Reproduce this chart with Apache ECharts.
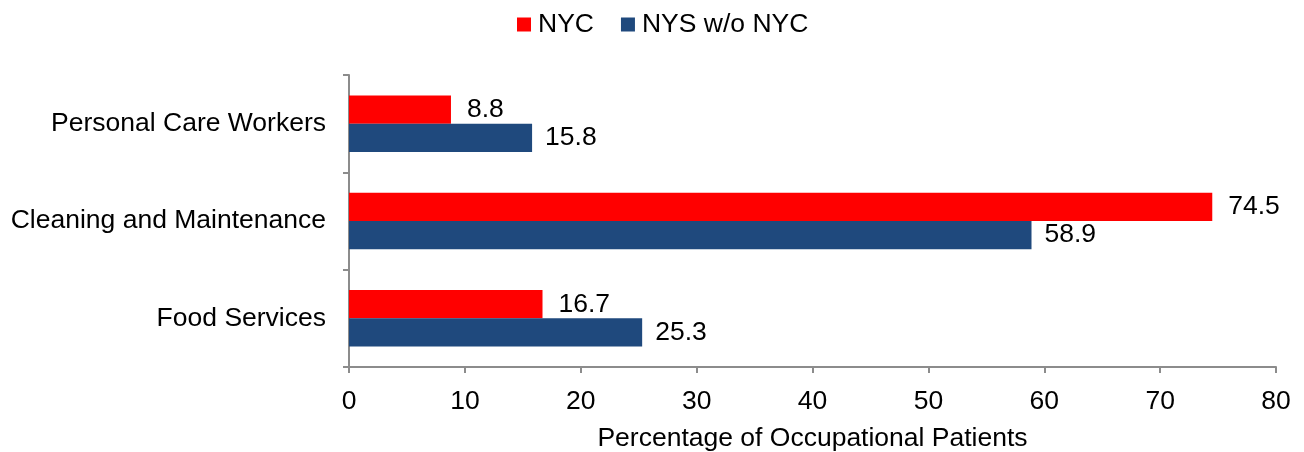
<!DOCTYPE html>
<html>
<head>
<meta charset="utf-8">
<script src="https://cdn.jsdelivr.net/npm/echarts@6/dist/echarts.min.js"></script>
<style>
html, body { margin: 0; padding: 0; background: #fff; }
#chart { width: 1304px; height: 452px; }
</style>
</head>
<body>
<div id="chart"></div>
<script>
// categories bottom to top (category axis draws first one at the bottom)
const categories = ['Food Services', 'Cleaning and Maintenance', 'Personal Care Workers'];
const nycValues = [16.7, 74.5, 8.8];
const nysValues = [25.3, 58.9, 15.8];
const xTicks = [0, 10, 20, 30, 40, 50, 60, 70, 80];

const font = 'Liberation Sans, Arial, sans-serif';
const fontSize = 26.5;
const axisGrey = '#8c8c8c';

var myChart = echarts.init(document.getElementById('chart'));

var option = {
    animation: false,
    textStyle: { fontFamily: font },
    legend: {
        top: 6,
        left: 512,
        icon: 'rect',
        itemWidth: 14,
        itemHeight: 14,
        itemGap: 27,
        textStyle: { fontFamily: font, fontSize: fontSize, color: '#000', padding: [0, 0, 0, 2] },
        data: ['NYC', 'NYS w/o NYC']
    },
    grid: { left: 349, right: 28, top: 75, bottom: 85, outerBoundsMode: 'none', containLabel: false },
    xAxis: {
        type: 'value',
        min: xTicks[0],
        max: xTicks[xTicks.length - 1],
        interval: 10,
        name: 'Percentage of Occupational Patients',
        nameLocation: 'middle',
        nameGap: 58,
        nameTextStyle: { fontFamily: font, fontSize: fontSize, color: '#000' },
        axisLine: { show: true, lineStyle: { color: axisGrey, width: 2 } },
        axisTick: { show: true, length: 6, lineStyle: { color: axisGrey, width: 2 } },
        axisLabel: { fontFamily: font, fontSize: fontSize, color: '#000', margin: 21 },
        splitLine: { show: false }
    },
    yAxis: {
        type: 'category',
        data: categories,
        axisLine: { show: true, lineStyle: { color: axisGrey, width: 2 } },
        axisTick: { show: true, length: 6, lineStyle: { color: axisGrey, width: 2 } },
        axisLabel: { fontFamily: font, fontSize: fontSize, color: '#000', margin: 23 }
    },
    series: [
        {
            name: 'NYC',
            type: 'bar',
            data: nycValues,
            itemStyle: { color: '#ff0000' },
            barGap: '0%',
            barCategoryGap: '42%',
            label: {
                show: true,
                position: 'right',
                distance: 16,
                fontFamily: font,
                fontSize: fontSize,
                color: '#000'
            }
        },
        {
            name: 'NYS w/o NYC',
            type: 'bar',
            data: nysValues,
            itemStyle: { color: '#1f497d' },
            barGap: '0%',
            barCategoryGap: '42%',
            label: {
                show: true,
                position: 'right',
                distance: 13,
                fontFamily: font,
                fontSize: fontSize,
                color: '#000'
            }
        }
    ]
};

myChart.setOption(option);
</script>
</body>
</html>
